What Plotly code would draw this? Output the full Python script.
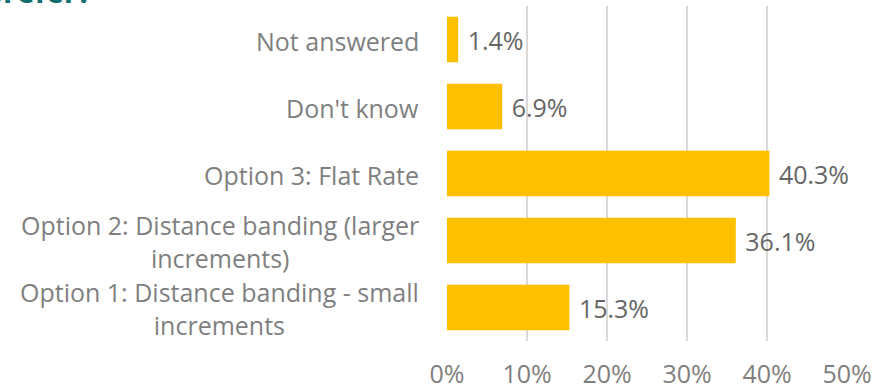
import plotly.graph_objects as go

# Survey responses (share of respondents)
categories = [
    "Option 1: Distance banding - small<br>increments",
    "Option 2: Distance banding (larger<br>increments)",
    "Option 3: Flat Rate",
    "Don't know",
    "Not answered",
]
shares = [15.3, 36.1, 40.3, 6.9, 1.4]
x_ticks = [0, 10, 20, 30, 40, 50]
x_tick_labels = ["0%", "10%", "20%", "30%", "40%", "50%"]
title_text = "Which option do you prefer?"

FONT = "Open Sans, Calibri, sans-serif"
LABEL_GREY = "#7f7f7f"
VALUE_GREY = "#666666"

fig = go.Figure(
    go.Bar(
        x=shares,
        y=categories,
        orientation="h",
        marker=dict(color="#FFC000", line=dict(width=0)),
        width=0.68,
        # non-breaking space keeps a little gap between bar end and value
        text=[f"\u00a0{v:.1f}%" for v in shares],
        textposition="outside",
        textfont=dict(family=FONT, size=25, color=VALUE_GREY),
        cliponaxis=False,
        hoverinfo="skip",
    )
)

# Category labels, wrapped lines centred
for cat in categories:
    fig.add_annotation(
        x=-0.065, xref="paper", xanchor="right",
        y=cat, yref="y", yanchor="middle", yshift=-1,
        text=cat, showarrow=False, align="center",
        font=dict(family=FONT, size=25, color=LABEL_GREY),
    )

# Slide title, mostly above the visible area
fig.add_annotation(
    x=-0.883, xref="paper", xanchor="right",
    y=0.975, yref="paper", yanchor="bottom",
    text=f"<b>{title_text}</b>", showarrow=False,
    font=dict(family=FONT, size=30, color="#0F6E6E"),
)

fig.update_layout(
    width=877, height=392,
    margin=dict(l=447, r=30, t=6, b=51, autoexpand=False),
    paper_bgcolor="white", plot_bgcolor="white",
    showlegend=False,
    xaxis=dict(
        range=[0, 50], tickvals=x_ticks, ticktext=x_tick_labels,
        showgrid=True, gridcolor="#d9d9d9", gridwidth=1.5,
        zeroline=False, showline=False, automargin=False,
        tickfont=dict(family=FONT, size=25, color=LABEL_GREY),
        ticklabelstandoff=16,
    ),
    yaxis=dict(
        categoryorder="array", categoryarray=categories,
        showticklabels=False, showgrid=False, zeroline=False,
        range=[-0.5, 4.5], automargin=False,
    ),
)

fig.write_html("out.html")
